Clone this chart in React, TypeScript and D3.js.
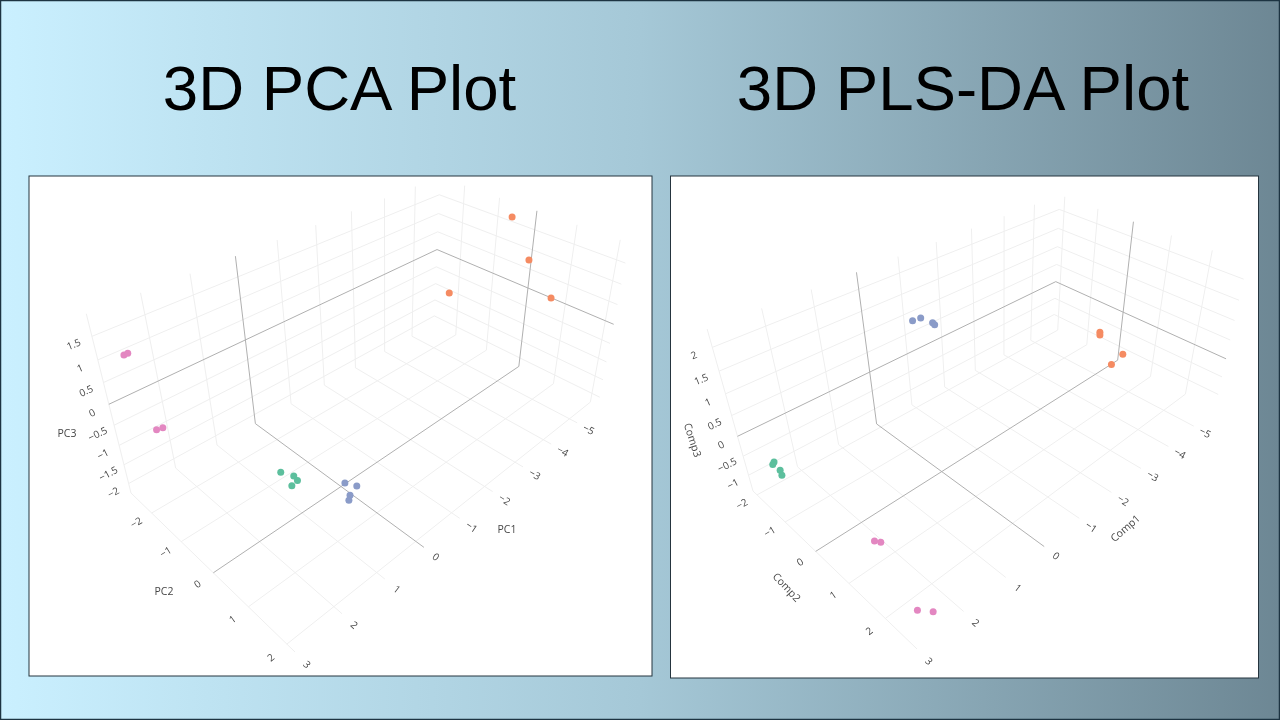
import React from 'react'
import * as d3 from 'd3'

type Pt = [number, number]

// values, order is orange, blue, green, pink (4 each)
const groupColors = ['#f58b62', '#8a9bc8', '#5cbf9d', '#e387c1']
const pointGroups = [0, 0, 0, 0, 1, 1, 1, 1, 2, 2, 2, 2, 3, 3, 3, 3]

const pcaX = [-5.59, -5.2, -4.6, -5.44, 0.44, 0.34, 0.45, 0.5, 1.34, 1.24, 1.22, 1.3, 2.68, 2.655, 2.49, 2.42]
const pcaY = [-0.44, 0.36, -1.27, 0.87, 0.62, 0.83, 0.76, 0.78, -0.07, 0.17, 0.24, 0.17, -2.4, -2.29, -2.17, -2.05]
const pcaZ = [1.75, 1.12, -0.15, 0.27, -1.42, -1.42, -1.63, -1.71, -1.0, -1.0, -1.08, -1.2, 1.12, 1.2, -0.57, -0.49]

const plsX = [-5.39, -5.43, -5.49, -5.07, 0.0, 0.03, -0.41, -0.39, 2.6, 2.635, 2.64, 2.61, 2.28, 2.22, 2.64, 2.48]
const plsY = [-0.26, -0.28, 0.4, 0.39, -0.54, -0.26, -0.48, -0.4, -1.79, -1.79, -1.51, -1.56, 0.83, 0.93, 2.41, 2.61]
const plsZ = [-0.48, -0.59, -0.86, -0.97, 1.99, 2.18, 1.8, 1.8, -0.67, -0.71, -0.67, -0.86, -1.05, -1.05, -1.16, -1.16]

const xTicks = [-5, -4, -3, -2, -1, 0, 1, 2, 3]
const yTicks = [-2, -1, 0, 1, 2]
const pcaZTicks = [-2, -1.5, -1, -0.5, 0, 0.5, 1, 1.5]
const plsZTicks = [-1, -0.5, 0, 0.5, 1, 1.5, 2]

// the 3d box of each plot: data ranges, plus where the box corners land on the slide
const pcaScene = {
  xDomain: [-5.85, 3], yDomain: [-2.75, 2.2], zDomain: [-2.26, 1.96],
  back: [434, 324] as Pt, left: [131, 493] as Pt, near: [295, 652] as Pt, right: [598, 406] as Pt, top: [440, 177] as Pt,
  depth: -0.11,
}
const plsScene = {
  xDomain: [-5.9, 3], yDomain: [-2.15, 2.8], zDomain: [-1.43, 2.37],
  back: [1053.5, 328] as Pt, left: [753, 491] as Pt, near: [917, 649] as Pt, right: [1215, 409] as Pt, top: [1060, 195] as Pt,
  depth: -0.113,
}

const pcaTitles = [
  { text: 'PC1', x: 507, y: 529, angle: 0 },
  { text: 'PC2', x: 164, y: 591, angle: 0 },
  { text: 'PC3', x: 67, y: 433, angle: 0 },
]
const plsTitles = [
  { text: 'Comp1', x: 1125, y: 528, angle: -41 },
  { text: 'Comp2', x: 787, y: 587, angle: 47 },
  { text: 'Comp3', x: 693, y: 440, angle: 72 },
]

const fontFamily = '"Open Sans", sans-serif'
const slideFont = '"Liberation Sans", Arial, sans-serif'

const makeProjection = (s: typeof pcaScene) => {
  const us = d3.scaleLinear().domain(s.xDomain).range([0, 1])
  const vs = d3.scaleLinear().domain(s.yDomain).range([0, 1])
  const ws = d3.scaleLinear().domain(s.zDomain).range([0, 1])

  // square to quad for the floor, then one more term for the height
  const { back: B, left: L, near: N, right: R, top: T, depth: k } = s
  const d1 = [L[0] - N[0], L[1] - N[1]]
  const d2 = [R[0] - N[0], R[1] - N[1]]
  const sx = B[0] - L[0] + N[0] - R[0]
  const sy = B[1] - L[1] + N[1] - R[1]
  const det = d1[0] * d2[1] - d2[0] * d1[1]
  const g = (sx * d2[1] - d2[0] * sy) / det
  const h = (d1[0] * sy - d1[1] * sx) / det

  const coef = (i: 0 | 1) => ({
    a: L[i] * (1 + g) - B[i],
    b: R[i] * (1 + h) - B[i],
    c: T[i] * (1 + k) - B[i],
  })
  const cx = coef(0)
  const cy = coef(1)

  const project = (x: number, y: number, z: number): Pt => {
    const u = us(x), v = vs(y), w = ws(z)
    const d = 1 + g * u + h * v + k * w
    return [
      (B[0] + cx.a * u + cx.b * v + cx.c * w) / d,
      (B[1] + cy.a * u + cy.b * v + cy.c * w) / d,
    ]
  }
  return { project, us, vs }
}

const Segment = ({ a, b, color }: { a: Pt; b: Pt; color: string }) => (
  <line x1={a[0]} y1={a[1]} x2={b[0]} y2={b[1]} stroke={color} strokeWidth={1} />
)

const TickLabel = ({ at, from, value }: { at: Pt; from: Pt; value: number }) => {
  // labels are flat in the 3d scene so they follow the direction of the box edge
  let angle = (Math.atan2(at[1] - from[1], at[0] - from[0]) * 180) / Math.PI
  if (angle > 90) angle -= 180
  if (angle < -90) angle += 180
  return (
    <text
      transform={`translate(${at[0]},${at[1]}) rotate(${angle})`}
      textAnchor="middle"
      dominantBaseline="central"
      fontFamily={fontFamily}
      fontSize={10}
      fill="#444"
    >
      {String(value).replace('-', '\u2212')}
    </text>
  )
}

const Scene = ({ scene, zTicks, xs, ys, zs, titles }: {
  scene: typeof pcaScene
  zTicks: number[]
  xs: number[]
  ys: number[]
  zs: number[]
  titles: typeof pcaTitles
}) => {
  const { project, us, vs } = makeProjection(scene)
  const [x0, x1] = scene.xDomain
  const [y0, y1] = scene.yDomain
  const [z0, z1] = scene.zDomain
  const xLabel = us.invert(1.037)
  const yLabel = vs.invert(1.06)
  const gridColor = (v: number) => (v === 0 ? '#b0b0b0' : '#efefef')

  const lines: { a: Pt; b: Pt; v: number }[] = []
  xTicks.forEach(x => {
    lines.push({ a: project(x, y0, z0), b: project(x, y0, z1), v: x })
    lines.push({ a: project(x, y0, z0), b: project(x, y1, z0), v: x })
  })
  yTicks.forEach(y => {
    lines.push({ a: project(x0, y, z0), b: project(x0, y, z1), v: y })
    lines.push({ a: project(x0, y, z0), b: project(x1, y, z0), v: y })
  })
  zTicks.forEach(z => {
    lines.push({ a: project(x0, y0, z), b: project(x1, y0, z), v: z })
    lines.push({ a: project(x0, y0, z), b: project(x0, y1, z), v: z })
  })
  // zero lines go on top of the light ones
  lines.sort((p, q) => Number(p.v === 0) - Number(q.v === 0))

  return (
    <g>
      {lines.map((l, i) => <Segment key={i} a={l.a} b={l.b} color={gridColor(l.v)} />)}

      <g opacity={0.99}>
        {xTicks.map(x => (
          <TickLabel key={`x${x}`} value={x} at={project(x, yLabel, z0)} from={project(x, y1, z0)} />
        ))}
        {yTicks.map(y => (
          <TickLabel key={`y${y}`} value={y} at={project(xLabel, y, z0)} from={project(x1, y, z0)} />
        ))}
        {zTicks.map(z => (
          <TickLabel key={`z${z}`} value={z} at={project(xLabel, y0, z)} from={project(x1, y0, z)} />
        ))}

        {titles.map(t => (
          <text
            key={t.text}
            transform={`translate(${t.x},${t.y}) rotate(${t.angle})`}
            textAnchor="middle"
            dominantBaseline="central"
            fontFamily={fontFamily}
            fontSize={10.5}
            fill="#444"
          >
            {t.text}
          </text>
        ))}
      </g>

      {xs.map((x, i) => {
        const [px, py] = project(x, ys[i], zs[i])
        return <circle key={i} cx={px} cy={py} r={3.5} fill={groupColors[pointGroups[i]]} />
      })}
    </g>
  )
}

const App = () => (
  <svg width={1280} height={720} style={{ position: 'absolute', left: 0, top: 0, display: 'block' }}>
    <defs>
      <linearGradient id="slideBg" x1="0" x2="1" y1="0" y2="0">
        <stop offset="0" stopColor="#caf0ff" />
        <stop offset="0.5" stopColor="#a5c8d7" />
        <stop offset="1" stopColor="#6d8794" />
      </linearGradient>
    </defs>
    <rect x={0.5} y={0.5} width={1279} height={719} fill="url(#slideBg)" stroke="#1d3442" strokeWidth={1.5} />

    <text x={339.5} y={110} textAnchor="middle" fontFamily={slideFont} fontSize={63.6} fill="#000">3D PCA Plot</text>
    <text x={963} y={110} textAnchor="middle" fontFamily={slideFont} fontSize={63.6} fill="#000">3D PLS-DA Plot</text>

    <rect x={29} y={176} width={623} height={500} fill="#fff" stroke="#25343e" strokeWidth={1} />
    <rect x={670.5} y={176} width={588} height={502} fill="#fff" stroke="#25343e" strokeWidth={1} />

    <Scene scene={pcaScene} zTicks={pcaZTicks} xs={pcaX} ys={pcaY} zs={pcaZ} titles={pcaTitles} />
    <Scene scene={plsScene} zTicks={plsZTicks} xs={plsX} ys={plsY} zs={plsZ} titles={plsTitles} />
  </svg>
)

export default App
